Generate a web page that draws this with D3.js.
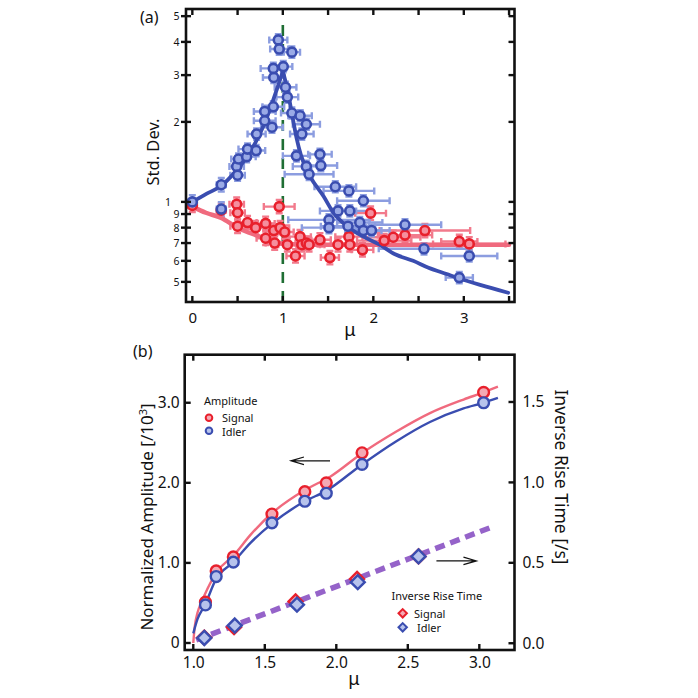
<!DOCTYPE html>
<html><head><meta charset="utf-8">
<script src="https://cdn.jsdelivr.net/npm/d3@7"></script>
<style>body{margin:0;background:#fff}svg{display:block}text{font-family:"Noto Sans",sans-serif;fill:#111}</style>
</head><body><svg id="c" width="698" height="698"></svg>
<script>
// ---------- DATA ----------
// Panel (a): [mu, std, xerr, relative yerr]
const stdIdler = [
 [0.00,1.00,0.05,0.06],[0.32,1.16,0.05,0.06],[0.32,0.94,0.05,0.06],[0.49,1.36,0.08,0.05],
 [0.50,1.26,0.08,0.05],[0.51,1.45,0.08,0.05],[0.60,1.48,0.10,0.05],[0.61,1.58,0.10,0.05],
 [0.705,1.56,0.10,0.05],[0.71,1.80,0.10,0.05],[0.80,2.02,0.12,0.05],[0.80,2.19,0.12,0.05],
 [0.88,1.91,0.12,0.05],[0.895,2.28,0.12,0.05],[0.90,2.94,0.12,0.05],[0.895,3.18,0.14,0.05],
 [0.95,4.07,0.10,0.05],[0.96,3.76,0.10,0.05],[1.005,3.23,0.10,0.05],[1.03,2.70,0.12,0.05],
 [1.05,2.48,0.12,0.05],[1.10,3.66,0.09,0.05],[1.10,2.16,0.12,0.05],[1.19,2.11,0.13,0.05],
 [1.21,1.80,0.13,0.05],[1.26,1.96,0.15,0.05],[1.15,1.49,0.15,0.05],[1.41,1.51,0.13,0.05],
 [1.26,1.36,0.15,0.05],[1.42,1.37,0.18,0.05],[1.29,1.27,0.27,0.05],[1.58,1.14,0.23,0.05],
 [1.73,1.10,0.28,0.05],[1.89,1.01,0.29,0.05],[1.61,0.925,0.20,0.05],[1.74,0.925,0.20,0.05],
 [1.51,0.856,0.45,0.05],[1.51,0.80,0.30,0.05],[1.72,0.81,0.30,0.05],[1.85,0.836,0.25,0.05],
 [1.89,0.78,0.20,0.05],[1.98,0.78,0.20,0.05],[2.35,0.82,0.40,0.05],[2.56,0.666,0.50,0.05],
 [3.06,0.626,0.31,0.05],[2.95,0.519,0.15,0.05]
];
const stdSignal = [
 [0.00,0.97,0.05,0.06],[0.32,0.93,0.05,0.06],[0.49,0.98,0.08,0.06],[0.50,0.91,0.08,0.06],
 [0.50,0.81,0.08,0.06],[0.61,0.836,0.10,0.06],[0.70,0.80,0.10,0.06],[0.81,0.83,0.10,0.06],
 [0.81,0.73,0.10,0.06],[0.90,0.78,0.10,0.06],[0.91,0.70,0.10,0.06],[0.96,0.96,0.17,0.06],
 [0.97,0.80,0.10,0.06],[1.02,0.77,0.10,0.06],[1.05,0.69,0.10,0.06],[1.14,0.626,0.10,0.06],
 [1.19,0.74,0.12,0.06],[1.21,0.69,0.12,0.06],[1.26,0.70,0.12,0.06],[1.29,0.69,0.12,0.06],
 [1.41,0.72,0.12,0.06],[1.52,0.617,0.10,0.06],[1.61,0.69,0.15,0.06],[1.73,0.74,0.15,0.06],
 [1.74,0.69,0.15,0.06],[1.88,0.66,0.12,0.06],[1.97,0.907,0.17,0.06],[2.12,0.715,0.30,0.06],
 [2.22,0.736,0.30,0.06],[2.35,0.75,0.30,0.06],[2.57,0.78,0.50,0.06],[2.95,0.71,0.20,0.06],
 [3.06,0.695,0.40,0.06]
];
const fitIdlerLeft = [[0,1.0],[0.15,1.07],[0.32,1.15],[0.5,1.33],[0.6,1.47],[0.7,1.68],[0.8,1.98],[0.9,2.45],[0.95,2.75],[1.0,3.1]];
const fitIdlerRight = [[1.0,3.1],[1.05,2.65],[1.1,2.15],[1.15,1.75],[1.2,1.5],[1.3,1.25],[1.45,1.05],[1.56,0.91],[1.71,0.81],[1.89,0.74],[2.07,0.69],[2.24,0.635],[2.44,0.6],[2.61,0.565],[2.81,0.535],[2.95,0.515],[3.18,0.487],[3.49,0.455]];
const fitSignal = [[0,0.96],[0.15,0.91],[0.32,0.87],[0.5,0.80],[0.7,0.75],[0.85,0.72],[1.04,0.695],[1.5,0.69],[3.5,0.69]];
const criticalMu = 1;

// Panel (b)
const ampSignal = [[1.085,0.51],[1.16,0.90],[1.28,1.075],[1.55,1.61],[1.78,1.89],[1.93,2.00],[2.18,2.375],[3.03,3.13]];
const ampIdler  = [[1.085,0.475],[1.16,0.83],[1.28,1.01],[1.55,1.50],[1.78,1.77],[1.93,1.87],[2.18,2.23],[3.03,3.00]];
const fitAmpSignal = [[1.0,0],[1.01,0.2],[1.03,0.38],[1.06,0.52],[1.1,0.68],[1.16,0.88],[1.28,1.09],[1.4,1.35],[1.55,1.62],[1.78,1.91],[1.96,2.08],[2.18,2.37],[2.42,2.64],[2.655,2.87],[2.89,3.04],[3.03,3.13],[3.13,3.20]];
const fitAmpIdler  = [[1.0,0.12],[1.03,0.3],[1.08,0.47],[1.16,0.80],[1.28,1.01],[1.4,1.25],[1.55,1.49],[1.78,1.77],[1.93,1.90],[2.18,2.23],[2.42,2.52],[2.655,2.76],[2.89,2.93],[3.03,3.0],[3.13,3.06]];
const riseSignal = [[1.077,0.035],[1.285,0.10],[1.715,0.26],[2.145,0.40],[2.575,0.54]];
const riseIdler  = [[1.077,0.033],[1.29,0.11],[1.725,0.24],[2.15,0.38],[2.575,0.54]];
const riseFit = [[1.02,0.02],[3.11,0.73]];
const arrowAmp = [[1.956,2.275],[1.683,2.275]];
const arrowRise = [[2.70,0.512],[2.98,0.512]];

// ticks
const xTicksA = [0,0.5,1,1.5,2,2.5,3,3.5];
const xLabelsA = [0,1,2,3];
const yMajorA = [2,3,4,5];
const yMinorA = [1,0.9,0.8,0.7,0.6,0.5];
const xTicksB = [1,1.5,2,2.5,3];
const yLeftB = [0,1,2,3];
const yRightB = [0,0.5,1,1.5];

// ---------- DRAW ----------
const svg = d3.select("#c");
const BLUE="#3a4db0", BLUE_L="#8c9de0", BLUE_F="#9aaae6";
const RED="#e8202c", RED_L="#f27a8c", RED_F="#f58f9e";
const PINKLINE="#f06a7e";

// Panel (a) scales
const L=186, R=514.5, T=9, B=302;
const xA = d3.scaleLinear().domain([-0.07,3.56]).range([L,R]);
const yA = d3.scaleLog().domain([0.42,5.32]).range([B,T]);

const gA = svg.append("g");
gA.append("line").attr("x1",xA(criticalMu)).attr("x2",xA(criticalMu))
  .attr("y1",yA(4.63)).attr("y2",B).attr("stroke","#1f6e34").attr("stroke-width",2.6)
  .attr("stroke-dasharray","11,8");

function errBars(g,data,col){
  const cap=3.5;
  data.forEach(d=>{
    const [m,v,xe,ye]=d;
    const x0=xA(m-xe),x1=xA(m+xe),y=yA(v);
    const yt=yA(v*(1+ye)),yb=yA(v/(1+ye)),x=xA(m);
    const p=`M${x0},${y}H${x1}M${x0},${y-cap}V${y+cap}M${x1},${y-cap}V${y+cap}M${x},${yt}V${yb}M${x-cap},${yt}H${x+cap}M${x-cap},${yb}H${x+cap}`;
    g.append("path").attr("d",p).attr("stroke",col).attr("stroke-width",2.4).attr("fill","none");
  });
}
errBars(gA,stdSignal,RED_L);
errBars(gA,stdIdler,BLUE_L);

const lineA = d3.line().x(d=>xA(d[0])).y(d=>yA(d[1])).curve(d3.curveMonotoneX);
gA.append("path").attr("d",lineA(fitSignal)).attr("stroke",PINKLINE).attr("stroke-width",4.5).attr("fill","none").attr("stroke-linecap","round");
gA.append("path").attr("d",lineA(fitIdlerLeft)).attr("stroke",BLUE).attr("stroke-width",3.8).attr("fill","none").attr("stroke-linecap","round");
gA.append("path").attr("d",lineA(fitIdlerRight)).attr("stroke",BLUE).attr("stroke-width",3.8).attr("fill","none").attr("stroke-linecap","round");

gA.selectAll(".ps").data(stdSignal).enter().append("circle")
  .attr("cx",d=>xA(d[0])).attr("cy",d=>yA(d[1])).attr("r",4.5)
  .attr("fill",RED_F).attr("stroke",RED).attr("stroke-width",2.6);
gA.selectAll(".pi").data(stdIdler).enter().append("circle")
  .attr("cx",d=>xA(d[0])).attr("cy",d=>yA(d[1])).attr("r",4.5)
  .attr("fill",BLUE_F).attr("stroke",BLUE).attr("stroke-width",2.6);

gA.append("rect").attr("x",L).attr("y",T).attr("width",R-L).attr("height",B-T)
  .attr("fill","none").attr("stroke","#111").attr("stroke-width",2.6);

function tickLines(g,vals,f){vals.forEach(v=>{const [x1,y1,x2,y2]=f(v);
  g.append("line").attr("x1",x1).attr("y1",y1).attr("x2",x2).attr("y2",y2).attr("stroke","#111").attr("stroke-width",2.4);});}
tickLines(gA,xTicksA,v=>[xA(v),B,xA(v),B-6]);
tickLines(gA,xTicksA,v=>[xA(v),T,xA(v),T+6]);
tickLines(gA,yMajorA.concat(yMinorA),v=>[L-5,yA(v),L+5,yA(v)]);
tickLines(gA,yMajorA.concat(yMinorA),v=>[R,yA(v),R-6,yA(v)]);

const axXA = gA.append("g").attr("transform",`translate(0,${B})`)
  .call(d3.axisBottom(xA).tickValues(xLabelsA).tickFormat(d3.format("d")).tickSize(0).tickPadding(10.5));
axXA.select(".domain").remove();
axXA.selectAll("text").style("font-size","15px").style("font-family","Noto Sans");
const axYA = gA.append("g").attr("transform",`translate(${L},0)`)
  .call(d3.axisLeft(yA).tickValues(yMajorA.concat(yMinorA.slice(1))).tickFormat(d=>d>=1?d3.format("d")(d):String(Math.round(d*10))).tickSize(0).tickPadding(6.5));
axYA.select(".domain").remove();
axYA.selectAll("text").style("font-size","10.5px").style("font-family","Noto Sans");
const axYA1 = gA.append("g").attr("transform",`translate(${L},0)`)
  .call(d3.axisLeft(yA).tickValues([1]).tickFormat(d3.format("d")).tickSize(0).tickPadding(15));
axYA1.select(".domain").remove();
axYA1.selectAll("text").style("font-size","10.5px").style("font-family","Noto Sans");

gA.append("text").attr("x",350).attr("y",336).attr("text-anchor","middle").style("font-size","18px").text("μ");
gA.append("text").attr("transform","translate(159,152) rotate(-90)").attr("text-anchor","middle").style("font-size","16.5px").text("Std. Dev.");
gA.append("text").attr("x",140).attr("y",23).style("font-size","16px").text("(a)");

// Panel (b) scales
const L2=184.7, R2=514.5, T2=354.7, B2=650;
const xB = d3.scaleLinear().domain([0.94,3.246]).range([L2,R2]);
const yBL = d3.scaleLinear().domain([-0.0875,3.60]).range([B2,T2]);
const yBR = d3.scaleLinear().domain([-0.042,1.794]).range([B2,T2]);
const gB = svg.append("g");

gB.append("path").attr("d",d3.line().x(d=>xB(d[0])).y(d=>yBR(d[1]))(riseFit))
  .attr("stroke","#9563c9").attr("stroke-width",5.5).attr("fill","none").attr("stroke-dasharray","10,6");
const lineB = d3.line().x(d=>xB(d[0])).y(d=>yBL(d[1])).curve(d3.curveMonotoneX);
gB.append("path").attr("d",lineB(fitAmpSignal)).attr("stroke",PINKLINE).attr("stroke-width",2.4).attr("fill","none");
gB.append("path").attr("d",lineB(fitAmpIdler)).attr("stroke",BLUE).attr("stroke-width",2.4).attr("fill","none");

gB.selectAll(".as").data(ampSignal).enter().append("circle")
  .attr("cx",d=>xB(d[0])).attr("cy",d=>yBL(d[1])).attr("r",5.4)
  .attr("fill","#f4a9b4").attr("stroke",RED).attr("stroke-width",2.4);
gB.selectAll(".ai").data(ampIdler).enter().append("circle")
  .attr("cx",d=>xB(d[0])).attr("cy",d=>yBL(d[1])).attr("r",5.4)
  .attr("fill","#b7c3ec").attr("stroke",BLUE).attr("stroke-width",2.4);

function diamond(cx,cy,s){return `M${cx},${cy-s}L${cx+s},${cy}L${cx},${cy+s}L${cx-s},${cy}Z`;}
gB.selectAll(".rs").data(riseSignal).enter().append("path")
  .attr("d",d=>diamond(xB(d[0]),yBR(d[1]),7)).attr("fill","#f4a9b4").attr("stroke",RED).attr("stroke-width",2.4);
gB.selectAll(".ri").data(riseIdler).enter().append("path")
  .attr("d",d=>diamond(xB(d[0]),yBR(d[1]),7)).attr("fill","#b7c3ec").attr("stroke",BLUE).attr("stroke-width",2.4);

function arrow(x1,y1,x2,y2){
  const dir=Math.sign(x2-x1);
  gB.append("path").attr("d",`M${x1},${y1}H${x2}M${x2-dir*13},${y2-3.8}L${x2},${y2}L${x2-dir*13},${y2+3.8}`)
   .attr("stroke","#111").attr("stroke-width",1.2).attr("fill","none");
}
arrow(xB(arrowAmp[0][0]),yBL(arrowAmp[0][1]),xB(arrowAmp[1][0]),yBL(arrowAmp[1][1]));
arrow(xB(arrowRise[0][0]),yBR(arrowRise[0][1]),xB(arrowRise[1][0]),yBR(arrowRise[1][1]));

const FS="11px";
const lg1 = gB.append("g");
lg1.append("text").attr("x",204).attr("y",405).style("font-size",FS).text("Amplitude");
lg1.append("circle").attr("cx",209).attr("cy",417.7).attr("r",3.3).attr("fill","#f4a9b4").attr("stroke",RED).attr("stroke-width",2);
lg1.append("text").attr("x",222).attr("y",421.5).style("font-size",FS).text("Signal");
lg1.append("circle").attr("cx",209).attr("cy",430.7).attr("r",3.3).attr("fill","#b7c3ec").attr("stroke",BLUE).attr("stroke-width",2);
lg1.append("text").attr("x",222).attr("y",435.5).style("font-size",FS).text("Idler");
const lg2 = gB.append("g");
lg2.append("text").attr("x",391.5).attr("y",600).style("font-size",FS).text("Inverse Rise Time");
lg2.append("path").attr("d",diamond(402.7,613.3,4.2)).attr("fill","#f4a9b4").attr("stroke",RED).attr("stroke-width",2);
lg2.append("text").attr("x",414).attr("y",617.5).style("font-size",FS).text("Signal");
lg2.append("path").attr("d",diamond(402.7,627.3,4.2)).attr("fill","#b7c3ec").attr("stroke",BLUE).attr("stroke-width",2);
lg2.append("text").attr("x",417).attr("y",631.5).style("font-size",FS).text("Idler");

gB.append("rect").attr("x",L2).attr("y",T2).attr("width",R2-L2).attr("height",B2-T2)
  .attr("fill","none").attr("stroke","#111").attr("stroke-width",2.6);
tickLines(gB,xTicksB,v=>[xB(v),B2,xB(v),B2-6]);
tickLines(gB,xTicksB,v=>[xB(v),T2,xB(v),T2+6]);
tickLines(gB,yLeftB,v=>[L2,yBL(v),L2+6,yBL(v)]);
tickLines(gB,yRightB,v=>[R2,yBR(v),R2-6,yBR(v)]);

const axXB = gB.append("g").attr("transform",`translate(0,${B2})`)
  .call(d3.axisBottom(xB).tickValues(xTicksB).tickFormat(d3.format(".1f")).tickSize(0).tickPadding(6.5));
axXB.select(".domain").remove();
axXB.selectAll("text").style("font-size","15.5px").style("font-family","Noto Sans");
const axYL = gB.append("g").attr("transform",`translate(${L2},0)`)
  .call(d3.axisLeft(yBL).tickValues(yLeftB).tickFormat(d=>d===0?"0":d3.format(".1f")(d)).tickSize(0).tickPadding(5));
axYL.select(".domain").remove();
axYL.selectAll("text").style("font-size","15.5px").style("font-family","Noto Sans");
const axYR = gB.append("g").attr("transform",`translate(${R2},0)`)
  .call(d3.axisRight(yBR).tickValues(yRightB).tickFormat(d3.format(".1f")).tickSize(0).tickPadding(8));
axYR.select(".domain").remove();
axYR.selectAll("text").style("font-size","15.5px").style("font-family","Noto Sans");

gB.append("text").attr("x",354).attr("y",685).attr("text-anchor","middle").style("font-size","18px").text("μ");
const yl = gB.append("text").attr("transform","translate(153,517) rotate(-90)").attr("text-anchor","middle").style("font-size","17px");
yl.append("tspan").text("Normalized Amplitude [/10");
yl.append("tspan").attr("dy",-6).style("font-size","11px").text("3");
yl.append("tspan").attr("dy",6).text("]");
gB.append("text").attr("transform","translate(555,477) rotate(90)").attr("text-anchor","middle").style("font-size","17.5px").text("Inverse Rise Time [/s]");
gB.append("text").attr("x",133).attr("y",357).style("font-size","16px").text("(b)");
</script></body></html>
